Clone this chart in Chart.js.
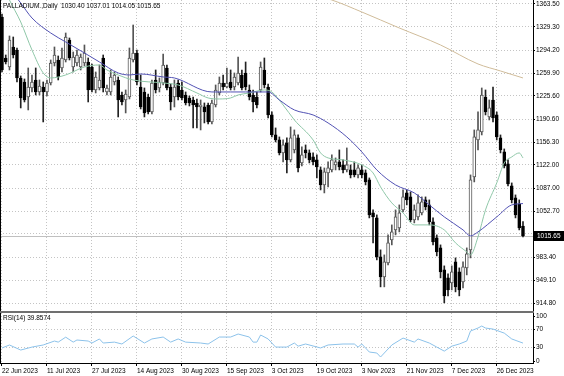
<!DOCTYPE html>
<html>
<head>
<meta charset="utf-8">
<script src="https://cdn.jsdelivr.net/npm/chart.js@4.4.0/dist/chart.umd.min.js"></script>
<style>
html, body { margin: 0; padding: 0; background: #fff; }
#wrap { position: relative; width: 564px; height: 376px; }
#main { position: absolute; left: 0; top: 0; }
#rsi { position: absolute; left: 0; top: 313px; }
</style>
</head>
<body>
<div id="wrap">
  <canvas id="main" width="564" height="313"></canvas>
  <canvas id="rsi" width="564" height="63"></canvas>
</div>
<script>
// axis labels
var dateIdx = [0, 12, 24, 36, 48, 60, 72, 84, 96, 108, 120, 132];
var dateLabels = ['22 Jun 2023', '11 Jul 2023', '27 Jul 2023', '14 Aug 2023', '30 Aug 2023', '15 Sep 2023',
  '3 Oct 2023', '19 Oct 2023', '3 Nov 2023', '21 Nov 2023', '7 Dec 2023', '26 Dec 2023'];
var priceTicks = [1363.5, 1329.3, 1294.2, 1259.9, 1225.6, 1190.6, 1156.3, 1122.0, 1087.0, 1052.7, 1018.4, 983.4, 949.1, 914.8];
var rsiTicks = [0, 30, 70, 100];

// daily candles
var opens = [
  1344, 1282.5, 1269, 1299, 1294.5, 1252.5, 1246.5, 1224, 1237.5, 1249.5,
  1231.5, 1239, 1231.5, 1245, 1275, 1279.5, 1267.5, 1279.5, 1309.5, 1269,
  1275, 1269, 1275, 1276.5, 1269, 1234.5, 1237.5, 1282.5, 1231.5, 1231.5,
  1246.5, 1249.5, 1227, 1219.5, 1224, 1279.5, 1290, 1239, 1231.5, 1224,
  1201.5, 1249.5, 1237.5, 1245, 1267.5, 1239, 1224, 1245, 1234.5, 1227,
  1222.5, 1219.5, 1215, 1209, 1209, 1212, 1186.5, 1212, 1230, 1245,
  1239, 1246.5, 1239, 1245, 1257, 1260, 1234.5, 1227, 1224, 1234.5,
  1264.5, 1239, 1197, 1167, 1159.5, 1140, 1155, 1129.5, 1144.5, 1162.5,
  1125, 1144.5, 1140, 1134, 1129.5, 1114.5, 1092, 1110, 1114.5, 1122,
  1126.5, 1122, 1114.5, 1114.5, 1114.5, 1107, 1114.5, 1110, 1099.5, 1050,
  1042.5, 984, 954, 975, 1009.5, 1024.5, 1027.5, 1054.5, 1080, 1074,
  1039.5, 1044, 1050, 1069.5, 1062, 1036.5, 1012.5, 997.5, 964.5, 952.5,
  945, 976.5, 961.5, 946.5, 967.5, 994.5, 1104, 1159.5, 1171.5, 1224,
  1194, 1219.5, 1197, 1162.5, 1141.5, 1123.5, 1090.5, 1072.5, 1063.5, 1030.40
];
var highs = [
  1348.5, 1287, 1315.5, 1314, 1297.5, 1255.5, 1251, 1267.5, 1257, 1267.5,
  1249.5, 1246.5, 1249.5, 1279.5, 1299, 1285.5, 1297.5, 1320, 1312.5, 1291.5,
  1294.5, 1288.5, 1302, 1282.5, 1273.5, 1261.5, 1272, 1287, 1242, 1264.5,
  1261.5, 1254, 1231.5, 1234.5, 1297.5, 1332, 1294.5, 1257, 1237.5, 1228.5,
  1249.5, 1264.5, 1252.5, 1288.5, 1272, 1243.5, 1249.5, 1249.5, 1246.5, 1231.5,
  1225.5, 1224, 1221, 1219.5, 1215, 1215, 1219.5, 1242, 1254, 1257,
  1267.5, 1264.5, 1260, 1284, 1264.5, 1276.5, 1242, 1234.5, 1231.5, 1276.5,
  1282.5, 1243.5, 1201.5, 1177.5, 1164, 1159.5, 1162.5, 1179, 1174.5, 1167,
  1149, 1152, 1144.5, 1140, 1137, 1119, 1117.5, 1126.5, 1137, 1132.5,
  1144.5, 1129.5, 1147.5, 1122, 1126.5, 1122, 1122, 1114.5, 1102.5, 1054.5,
  1047, 994.5, 987, 1017, 1032, 1054.5, 1062, 1084.5, 1084.5, 1081.5,
  1062, 1077, 1074, 1074, 1069.5, 1042.5, 1017, 1002, 970.5, 958.5,
  970.5, 982.5, 967.5, 976.5, 997.5, 1107, 1174.5, 1201.5, 1237.5, 1234.5,
  1219.5, 1239, 1201.5, 1167, 1146, 1129.5, 1095, 1077, 1069.5, 1037.01
];
var lows = [
  1261.5, 1273.5, 1264.5, 1282.5, 1246.5, 1207.5, 1216.5, 1204.5, 1231.5, 1227,
  1227, 1186.5, 1225.5, 1242, 1270.5, 1249.5, 1261.5, 1276.5, 1279.5, 1261.5,
  1270.5, 1264.5, 1270.5, 1216.5, 1231.5, 1230, 1234.5, 1231.5, 1227, 1227,
  1242, 1194, 1212, 1200, 1221, 1276.5, 1242, 1206, 1194, 1198.5,
  1198.5, 1230, 1231.5, 1242, 1234.5, 1204.5, 1209, 1219.5, 1219.5, 1212,
  1210.5, 1177.5, 1177.5, 1174.5, 1185, 1183.5, 1183.5, 1209, 1227, 1234.5,
  1237.5, 1234.5, 1234.5, 1242, 1234.5, 1234.5, 1219.5, 1201.5, 1207.5, 1231.5,
  1237.5, 1192.5, 1164, 1156.5, 1137, 1126.5, 1110, 1126.5, 1140, 1111.5,
  1120.5, 1132.5, 1125, 1122, 1102.5, 1084.5, 1080, 1089, 1111.5, 1114.5,
  1114.5, 1110, 1111.5, 1102.5, 1104, 1102.5, 1102.5, 1092, 1042.5, 1005,
  979.5, 939, 939, 972, 1002, 1017, 1021.5, 1051.5, 1062, 1036.5,
  1035, 1039.5, 1047, 1054.5, 1032, 1002, 985.5, 952.5, 915, 925.5,
  934.5, 931.5, 925.5, 937.5, 957, 982.5, 1096.5, 1144.5, 1167, 1197,
  1189.5, 1186.5, 1159.5, 1140, 1117.5, 1090.5, 1065, 1042.5, 1024.5, 1014.05
];
var closes = [
  1264.5, 1276.5, 1309.5, 1287, 1252.5, 1222.5, 1219.5, 1239, 1246.5, 1231.5,
  1240.5, 1231.5, 1245, 1275, 1287, 1254, 1282.5, 1314, 1282.5, 1284,
  1287, 1284, 1290, 1234.5, 1234.5, 1254, 1249.5, 1237.5, 1237.5, 1254,
  1257, 1219.5, 1216.5, 1228.5, 1282.5, 1290, 1246.5, 1209, 1200, 1201.5,
  1245, 1234.5, 1246.5, 1272, 1237.5, 1216.5, 1239, 1224, 1222.5, 1215,
  1215, 1212, 1209, 1212, 1201.5, 1186.5, 1215, 1234.5, 1245, 1239,
  1245, 1237.5, 1254, 1260, 1237.5, 1239, 1224, 1216.5, 1212, 1269,
  1242, 1197, 1167, 1159.5, 1140, 1152, 1129.5, 1162.5, 1167, 1117.5,
  1137, 1140, 1129.5, 1126.5, 1119, 1092, 1111.5, 1117.5, 1129.5, 1126.5,
  1119, 1114.5, 1122, 1107, 1107, 1117.5, 1107, 1096.5, 1047, 1044,
  984, 954, 976.5, 1005, 1021.5, 1044, 1050, 1074, 1069.5, 1039.5,
  1054.5, 1065, 1066.5, 1059, 1036.5, 1006.5, 991.5, 961.5, 925.5, 934.5,
  961.5, 939, 934.5, 969, 988.5, 1099.5, 1164, 1174.5, 1227, 1201.5,
  1207.5, 1192.5, 1164, 1144.5, 1120.5, 1093.5, 1069.5, 1047, 1027.5, 1015.65
];

// moving averages, read at a few bars
var maSlowIdx = [0, 5, 8, 13, 17, 22, 26, 31, 34, 37, 43, 46, 56, 61, 65, 71, 74, 78, 83, 87, 92, 96, 100, 105, 110, 114, 118, 123, 125, 127, 132, 136, 139];
var maSlow = [1401, 1365, 1342.5, 1320, 1306.5, 1290, 1276.5, 1260, 1257, 1258.5, 1254, 1252.5, 1231.5, 1231.5, 1231.5, 1231.5, 1219.5, 1204.5, 1197, 1185, 1164, 1141.5, 1114.5, 1092, 1080, 1062, 1044, 1024.5, 1015.5, 1021.5, 1044, 1062, 1064];
var maFastIdx = [0, 2, 5, 8, 11, 13, 17, 22, 26, 28, 31, 35, 43, 47, 52, 55, 58, 61, 63, 66, 70, 72, 75, 78, 83, 85, 87, 91, 96, 99, 101, 104, 107, 110, 114, 118, 121, 124, 125, 127, 129, 132, 134, 136, 138, 139];
var maFast = [1395, 1369.5, 1336.5, 1294.5, 1260, 1252.5, 1257, 1269, 1272, 1264.5, 1257, 1249.5, 1245, 1242, 1230, 1222.5, 1221, 1222.5, 1227, 1230, 1234.5, 1231.5, 1212, 1189.5, 1159.5, 1140, 1132.5, 1129.5, 1122, 1110, 1089, 1065, 1050, 1032, 1032, 1024.5, 1005, 991.5, 987, 1014, 1054.5, 1095, 1125, 1134, 1140, 1132.5];
var ma200Idx = [80, 88, 96, 106, 117, 127, 133, 139];
var ma200 = [1381.5, 1369.5, 1351.5, 1327.5, 1302, 1273.5, 1263, 1252.5];

// RSI(14)
var rsiIdx = [0, 2, 5, 8, 11, 14, 15, 17, 19, 20, 23, 24, 26, 27, 30, 32, 35, 38, 40, 43, 45, 47, 49, 53, 55, 58, 61, 63, 66, 67, 68, 69, 71, 73, 76, 78, 79, 81, 85, 87, 91, 94, 95, 96, 98, 100, 101, 103, 104, 107, 110, 111, 114, 116, 118, 120, 122, 124, 125, 127, 128, 129, 131, 134, 136, 139];
var rsiVals = [29, 35.6, 24.4, 31, 35.6, 44.4, 42, 53, 42, 46.7, 44.4, 40, 49, 40, 42, 37.8, 55.6, 40, 49, 53.3, 42, 49, 42, 40, 37.8, 53.3, 53.3, 60, 53.3, 42, 42, 57.8, 49, 31, 31, 40, 33, 37.8, 29, 35.6, 37.8, 37.8, 31, 37.8, 20, 17.8, 8.9, 26.7, 35.6, 51, 42, 49, 40, 31, 22, 33, 37.8, 44.4, 66.7, 73.3, 77.8, 73.3, 71, 62, 49, 39.8574];

var xMin = -0.53, xMax = 141.67;
var gridColor = '#c4c4c4';
var fontFam = '"Liberation Sans", Arial, sans-serif';
var last = closes.length - 1;

function pts(xs, ys) {
  return xs.map(function (x, i) { return { x: x, y: ys[i] }; });
}
function dateTicks(scale) {
  scale.ticks = dateIdx.map(function (v) { return { value: v }; });
}
function fixWidth(scale) {
  scale.width = 31;
  scale.paddingTop = 0;
  scale.paddingBottom = 0;
}

var idx = closes.map(function (c, i) { return i; });
var isUp = function (i) { return closes[i] >= opens[i]; };

var mainDecor = {
  id: 'mainDecor',
  beforeDatasetsDraw: function (chart) {
    var ctx = chart.ctx, a = chart.chartArea;
    var y = Math.round(chart.scales.y.getPixelForValue(closes[last])) + 0.5;
    ctx.save();
    ctx.strokeStyle = '#c0c0c0';
    ctx.lineWidth = 1;
    ctx.beginPath();
    ctx.moveTo(a.left, y);
    ctx.lineTo(a.right, y);
    ctx.stroke();
    ctx.restore();
  },
  afterDraw: function (chart) {
    var ctx = chart.ctx, a = chart.chartArea;
    var y = Math.round(chart.scales.y.getPixelForValue(closes[last]));
    ctx.save();
    // window frame and separator
    ctx.fillStyle = '#000';
    ctx.fillRect(0, 0, 1, a.bottom);
    ctx.fillStyle = '#707070';
    ctx.fillRect(0, a.bottom, a.right + 1, 2);
    // price label
    ctx.fillStyle = '#000';
    ctx.fillRect(a.right, y - 5, 31, 10);
    ctx.font = '6.5px ' + fontFam;
    ctx.textBaseline = 'middle';
    ctx.fillStyle = '#fff';
    ctx.fillText(closes[last].toFixed(2), a.right + 4, y + 0.5);
    // header
    ctx.fillStyle = '#000';
    ctx.fillText('PALLADIUM.,Daily  ' + opens[last].toFixed(2) + ' ' + highs[last].toFixed(2) + ' ' +
      lows[last].toFixed(2) + ' ' + closes[last].toFixed(2), 3, 6);
    ctx.restore();
  }
};

new Chart(document.getElementById('main'), {
  type: 'bar',
  data: {
    datasets: [
      { type: 'line', data: pts(maSlowIdx, maSlow), borderColor: '#5252b4', borderWidth: 1, pointRadius: 0, cubicInterpolationMode: 'monotone', order: -3 },
      { type: 'line', data: pts(maFastIdx, maFast), borderColor: '#8fc7a8', borderWidth: 1, pointRadius: 0, cubicInterpolationMode: 'monotone', order: -2 },
      { type: 'line', data: pts(ma200Idx, ma200), borderColor: '#d0bc9a', borderWidth: 1, pointRadius: 0, cubicInterpolationMode: 'monotone', order: -1 },
      {
        data: idx.map(function (i) { return { x: i, y: [opens[i], closes[i]] }; }),
        backgroundColor: idx.map(function (i) { return isUp(i) ? '#ffffff' : '#000000'; }),
        borderColor: idx.map(function (i) { return isUp(i) ? '#555555' : '#000000'; }),
        borderWidth: 1, borderSkipped: false,
        barThickness: 3, grouped: false, order: 1
      },
      {
        data: idx.map(function (i) { return { x: i, y: [lows[i], highs[i]] }; }),
        backgroundColor: idx.map(function (i) { return isUp(i) ? '#555555' : '#222222'; }),
        borderWidth: 0,
        barThickness: 1, grouped: false, order: 2
      }
    ]
  },
  options: {
    responsive: false,
    animation: false,
    events: [],
    layout: { padding: { left: 0, right: 0, top: 0, bottom: 2 } },
    plugins: { legend: { display: false }, tooltip: { enabled: false } },
    scales: {
      x: {
        type: 'linear', min: xMin, max: xMax, offset: false,
        afterBuildTicks: dateTicks,
        ticks: { display: false },
        grid: { color: gridColor, offset: false, drawTicks: false },
        border: { display: false, dash: [1, 2] }
      },
      y: {
        position: 'right', min: 902.8, max: 1369.5, beginAtZero: false,
        afterBuildTicks: function (s) { s.ticks = priceTicks.map(function (v) { return { value: v }; }); },
        afterFit: fixWidth,
        ticks: {
          color: '#000', padding: 1, font: { family: fontFam, size: 6.5 },
          callback: function (v) { return v === 1018.4 ? '' : v.toFixed(2); }
        },
        grid: { color: gridColor, drawTicks: true, tickLength: 2, tickColor: '#000', tickBorderDash: [] },
        border: { display: true, color: '#000', dash: [1, 2] }
      }
    }
  },
  plugins: [mainDecor]
});

var rsiDecor = {
  id: 'rsiDecor',
  afterDraw: function (chart) {
    var ctx = chart.ctx, a = chart.chartArea;
    ctx.save();
    ctx.fillStyle = '#000';
    ctx.fillRect(0, a.top, 1, a.bottom - a.top);
    ctx.font = '6.5px ' + fontFam;
    ctx.textBaseline = 'middle';
    ctx.fillText('RSI(14) ' + rsiVals[rsiVals.length - 1].toFixed(4), 3, a.top + 5);
    ctx.restore();
  }
};

new Chart(document.getElementById('rsi'), {
  type: 'line',
  data: {
    datasets: [{ data: pts(rsiIdx, rsiVals), borderColor: '#8cc2ea', borderWidth: 1, pointRadius: 0, tension: 0 }]
  },
  options: {
    responsive: false,
    animation: false,
    events: [],
    layout: { padding: 0 },
    plugins: { legend: { display: false }, tooltip: { enabled: false } },
    scales: {
      x: {
        type: 'linear', min: xMin, max: xMax,
        afterBuildTicks: dateTicks,
        afterFit: function (s) { s.height = 13; s.paddingLeft = 0; s.paddingRight = 0; },
        ticks: {
          autoSkip: false, maxRotation: 0, align: 'start', padding: 1, color: '#000',
          font: { family: fontFam, size: 6.5 },
          callback: function (v, i) { return dateLabels[i]; }
        },
        grid: { color: gridColor, drawTicks: true, tickLength: 3, tickColor: '#000', tickBorderDash: [] },
        border: { display: true, color: '#000', dash: [1, 2] }
      },
      y: {
        position: 'right', min: -4.4, max: 106.7,
        afterBuildTicks: function (s) { s.ticks = rsiTicks.map(function (v) { return { value: v }; }); },
        afterFit: fixWidth,
        ticks: {
          color: '#000', padding: 1, font: { family: fontFam, size: 6.5 },
          callback: function (v) { return String(v); }
        },
        grid: {
          color: function (c) { return c.tick && (c.tick.value === 30 || c.tick.value === 70) ? gridColor : 'rgba(0,0,0,0)'; },
          drawTicks: true, tickLength: 2, tickColor: '#000', tickBorderDash: []
        },
        border: { display: true, color: '#000', dash: [1, 2] }
      }
    }
  },
  plugins: [rsiDecor]
});
</script>
</body>
</html>
